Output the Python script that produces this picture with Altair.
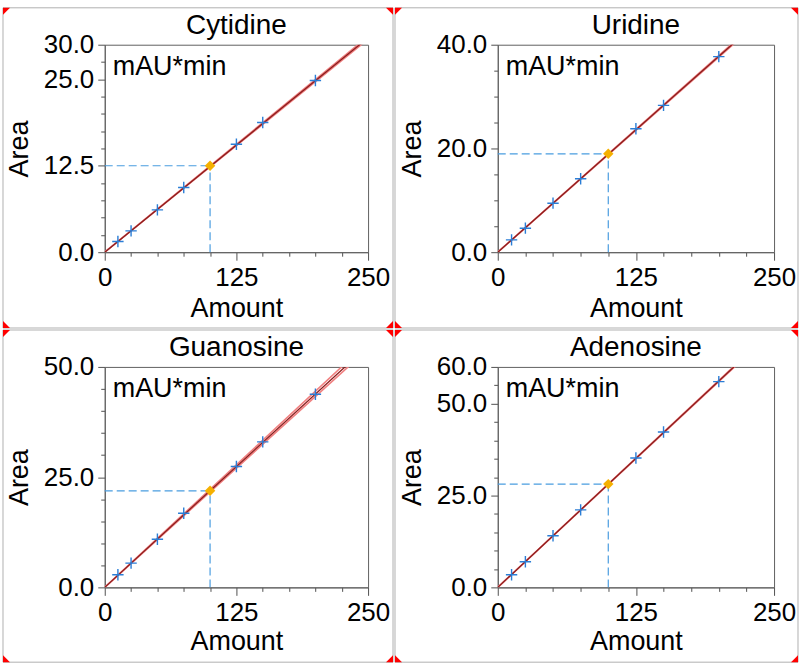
import json
import altair as alt
import pandas as pd

# ---------------- data ----------------
names = ["Cytidine", "Uridine", "Guanosine", "Adenosine"]
amounts = [12.5, 25, 50, 75, 125, 150, 200]
cytidine_area = [1.54, 3.09, 6.12, 9.35, 15.6, 18.75, 24.83]
uridine_area = [2.38, 4.63, 9.45, 14.15, 23.8, 28.3, 37.7]
guanosine_area = [2.87, 5.5, 10.9, 16.8, 27.4, 33.0, 43.8]
adenosine_area = [3.44, 6.98, 14.05, 21.1, 35.2, 42.3, 56.0]

check_amount = 100
check_area = [12.5, 18.97, 21.9, 28.1]

fit_amounts = [0, 250]
# fitted area at amount 0 and 250: main line, lower line, upper line
cytidine_fit = [31.0, 30.8, 31.2]
uridine_fit = [47.2, 47.0, 47.4]
guanosine_fit = [54.8, 54.1, 55.6]
adenosine_fit = [70.2, 70.0, 70.4]

x_ticks = [0, 25, 50, 75, 100, 125, 150, 175, 200, 225, 250]
x_labels = [0, 125, 250]
cytidine_yticks = [0, 2.5, 5, 7.5, 10, 12.5, 15, 17.5, 20, 22.5, 25, 27.5, 30]
cytidine_ylabels = [0, 12.5, 25, 30]
uridine_yticks = [0, 5, 10, 15, 20, 25, 30, 35, 40]
uridine_ylabels = [0, 20, 40]
guanosine_yticks = [0, 5, 10, 15, 20, 25, 30, 35, 40, 45, 50]
guanosine_ylabels = [0, 25, 50]
adenosine_yticks = [0, 5, 10, 15, 20, 25, 30, 35, 40, 45, 50, 55, 60]
adenosine_ylabels = [0, 25, 50, 60]

FONT = "Liberation Sans"
FRAME = "#b0b0b0"
CROSS = "M-1,0L1,0M0,-1L0,1"


def one_row(**kw):
    return pd.DataFrame({k: [v] for k, v in kw.items()})


def panel(name, area, chk, fit, yticks, ylabels, W, H, L, T, R, B, xtitle_y):
    xs = alt.Scale(domain=[0, 250], nice=False, zero=False)
    ys = alt.Scale(domain=[0, yticks[-1]], nice=False, zero=False)
    xmaj = "indexof(%s, datum.value) >= 0" % json.dumps(x_labels)
    ymaj = "indexof(%s, datum.value) >= 0" % json.dumps(ylabels)
    xaxis = alt.Axis(
        values=x_ticks, format="d",
        labelExpr=f"{xmaj} ? datum.label : ''",
        tickSize={"condition": {"test": xmaj, "value": 8}, "value": 4},
        labelPadding=4, labelFlush=False, labelOverlap=False, grid=False,
        title="Amount", titleX=W / 2, titleY=xtitle_y,
        titleBaseline="alphabetic", titleAlign="center",
    )
    yaxis = alt.Axis(
        values=yticks,
        labelExpr=f"{ymaj} ? format(datum.value, '.1f') : ''",
        tickSize={"condition": {"test": ymaj, "value": 7}, "value": 4},
        labelPadding=4, labelFlush=False, labelOverlap=False, grid=False,
        title="Area", titleX=-77, titleY=H / 2, titleAngle=270,
        titleBaseline="alphabetic", titleAlign="center",
    )
    X = alt.X("amount:Q", scale=xs, axis=xaxis)
    Y = alt.Y("area:Q", scale=ys, axis=yaxis)

    pts = pd.DataFrame({"amount": amounts, "area": area})
    chk_df = pd.DataFrame({"amount": [check_amount], "area": [chk]})
    fit_df = pd.DataFrame({
        "amount": fit_amounts * 3,
        "area": [0, fit[0], 0, fit[1], 0, fit[2]],
        "line": ["main", "main", "lo", "lo", "hi", "hi"],
    })
    dash_df = pd.DataFrame({
        "amount": [0, check_amount, check_amount, check_amount],
        "area": [chk, chk, 0, chk],
        "seg": ["h", "h", "v", "v"],
    })

    deco = one_row(t=name)
    frame = alt.Chart(deco).mark_rect(fillOpacity=0, stroke=FRAME, strokeWidth=1).encode(
        x=alt.value(-L), x2=alt.value(W + R), y=alt.value(-T), y2=alt.value(H + B))
    tris = []
    for px, py, path in [(-L, -T, "M0,0L2,0L0,2Z"), (W + R, -T, "M0,0L-2,0L0,2Z"),
                         (-L, H + B, "M0,0L2,0L0,-2Z"), (W + R, H + B, "M0,0L-2,0L0,-2Z")]:
        tris.append(alt.Chart(deco).mark_point(shape=path, filled=True, color="#ff0000",
                                               size=49, opacity=1).encode(
            x=alt.value(px), y=alt.value(py)))
    title = alt.Chart(deco).mark_text(font=FONT, fontSize=28, color="black",
                                      align="center", baseline="alphabetic").encode(
        x=alt.value(W / 2), y=alt.value(-11), text="t:N")
    unit = alt.Chart(one_row(u="mAU*min")).mark_text(font=FONT, fontSize=27, color="black",
                                                     align="left", baseline="alphabetic").encode(
        x=alt.value(8), y=alt.value(30), text="u:N")

    dashes = alt.Chart(dash_df).mark_line(color="#4a9de0", strokeWidth=1.2,
                                          strokeDash=[8, 4]).encode(
        x=X, y=Y, detail="seg:N", order=alt.Order("area:Q"))
    light = alt.Chart(fit_df[fit_df.line != "main"]).mark_line(
        color="#f08080", strokeWidth=1.6, clip=True).encode(x=X, y=Y, detail="line:N")
    main = alt.Chart(fit_df[fit_df.line == "main"]).mark_line(
        color="#8b1c1c", strokeWidth=1.3, clip=True).encode(x=X, y=Y)
    crosses = alt.Chart(pts).mark_point(shape=CROSS, filled=False, color="#2a7ed6",
                                        strokeWidth=1.4, size=130, opacity=1).encode(x=X, y=Y)
    chkpt = alt.Chart(chk_df).mark_point(shape="diamond", filled=True, color="#f5b000",
                                         size=110, opacity=1).encode(x=X, y=Y)

    return alt.layer(frame, *tris, title, unit, dashes, light, main, crosses, chkpt).properties(
        width=W, height=H)


p1 = panel("Cytidine", cytidine_area, check_area[0], cytidine_fit, cytidine_yticks,
           cytidine_ylabels, 264, 208, 102, 37, 25, 76, 64)
p2 = panel("Uridine", uridine_area, check_area[1], uridine_fit, uridine_yticks,
           uridine_ylabels, 277, 208, 103, 37, 24, 76, 64)
p3 = panel("Guanosine", guanosine_area, check_area[2], guanosine_fit, guanosine_yticks,
           guanosine_ylabels, 264, 221, 102, 37, 25, 75, 62)
p4 = panel("Adenosine", adenosine_area, check_area[3], adenosine_fit, adenosine_yticks,
           adenosine_ylabels, 277, 221, 103, 37, 24, 75, 62)

chart = alt.ConcatChart(
    concat=[p1, p2, p3, p4], columns=2, spacing=0, align="each", bounds="full",
).properties(
    padding={"left": 2, "top": 6, "right": 0, "bottom": 0},
    background="white",
).configure_view(
    stroke="#606060", strokeWidth=1,
).configure_axis(
    labelFont=FONT, labelFontSize=26, labelColor="black",
    titleFont=FONT, titleFontSize=27, titleFontWeight="normal", titleColor="black",
    tickColor="#505050", domainColor="#606060", tickWidth=1, domainWidth=1,
)

chart.save("out.html", embed_options={"renderer": "svg", "actions": False})
